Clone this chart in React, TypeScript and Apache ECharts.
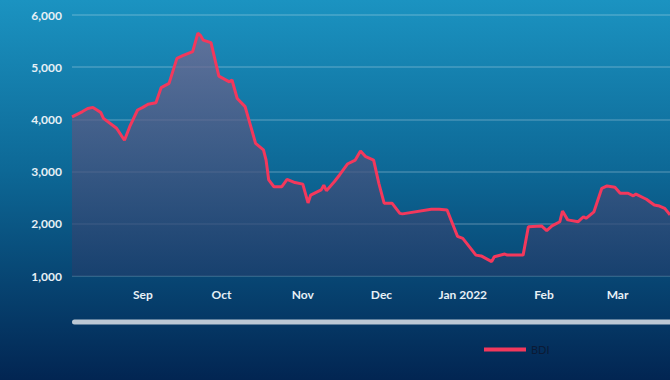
import React, { useEffect, useRef } from "react";
import * as echarts from "echarts";

const dates = [
  "2021-08-05", "2021-08-09", "2021-08-11", "2021-08-13", "2021-08-16", "2021-08-17",
  "2021-08-22", "2021-08-25", "2021-08-27", "2021-08-30", "2021-09-01", "2021-09-03",
  "2021-09-06", "2021-09-08", "2021-09-11", "2021-09-14", "2021-09-16", "2021-09-20",
  "2021-09-22", "2021-09-23", "2021-09-24", "2021-09-27", "2021-09-30", "2021-10-04",
  "2021-10-05", "2021-10-07", "2021-10-10", "2021-10-14", "2021-10-17", "2021-10-18",
  "2021-10-19", "2021-10-21", "2021-10-24", "2021-10-26", "2021-10-29", "2021-11-01",
  "2021-11-03", "2021-11-04", "2021-11-08", "2021-11-09", "2021-11-10", "2021-11-13",
  "2021-11-15", "2021-11-18", "2021-11-21", "2021-11-23", "2021-11-25", "2021-11-28",
  "2021-11-30", "2021-12-02", "2021-12-05", "2021-12-08", "2021-12-09", "2021-12-20",
  "2021-12-23", "2021-12-26", "2021-12-30", "2022-01-01", "2022-01-04", "2022-01-06",
  "2022-01-08", "2022-01-12", "2022-01-13", "2022-01-17", "2022-01-18", "2022-01-24",
  "2022-01-26", "2022-01-31", "2022-02-02", "2022-02-04", "2022-02-07", "2022-02-08",
  "2022-02-10", "2022-02-14", "2022-02-16", "2022-02-17", "2022-02-20", "2022-02-23",
  "2022-02-25", "2022-02-28", "2022-03-02", "2022-03-05", "2022-03-07", "2022-03-08",
  "2022-03-12", "2022-03-15", "2022-03-17", "2022-03-19", "2022-03-21",
];

const bdi = [
  4050, 4150, 4210, 4230, 4130, 4020,
  3830, 3600, 3860, 4180, 4230, 4290,
  4320, 4610, 4690, 5170, 5215, 5300,
  5650, 5610, 5520, 5470, 4830, 4720,
  4755, 4400, 4245, 3540, 3415, 3220,
  2840, 2710, 2710, 2850, 2790, 2760,
  2400, 2550, 2650, 2740, 2635, 2805,
  2935, 3145, 3220, 3395, 3285, 3220,
  2775, 2395, 2395, 2200, 2190, 2280,
  2280, 2265, 1760, 1720, 1530, 1400,
  1385, 1275, 1370, 1420, 1400, 1400,
  1945, 1960, 1870, 1960, 2040, 2245,
  2075, 2040, 2135, 2105, 2230, 2680,
  2725, 2700, 2585, 2585, 2535, 2570,
  2470, 2360, 2340, 2295, 2170,
];

const monthNames = ["Jan", "Feb", "Mar", "Apr", "May", "Jun", "Jul", "Aug", "Sep", "Oct", "Nov", "Dec"];
const seriesName = "BDI";

export default function App() {
  const ref = useRef<HTMLDivElement>(null);
  useEffect(() => {
    document.body.style.margin = "0";
    const chart = echarts.init(ref.current!, null, { renderer: "svg" });
    const data = dates.map((d, i) => [d, bdi[i]]);
    chart.setOption({
      animation: false,
      backgroundColor: {
        type: "linear", x: 0, y: 0, x2: 0, y2: 1,
        colorStops: [
          { offset: 0, color: "#1b93c1" },
          { offset: 0.45, color: "#0d6896" },
          { offset: 1, color: "#022552" },
        ],
      },
      grid: { left: 72, right: 0, top: 15, bottom: 104 },
      legend: {
        left: 484, top: 344, padding: 0,
        icon: "rect", itemWidth: 42, itemHeight: 4, itemGap: 6,
        textStyle: { color: "#0b1a35", fontSize: 11, fontFamily: "Lato" },
        data: [seriesName],
      },
      xAxis: {
        type: "time",
        min: "2021-08-05",
        max: "2022-03-21",
        splitNumber: 8,
        axisLine: { show: false },
        axisTick: { show: false },
        splitLine: { show: false },
        axisLabel: {
          color: "#e6f0f6",
          fontSize: 12,
          fontWeight: "bold",
          fontFamily: "Lato",
          margin: 12,
          hideOverlap: false,
          formatter: (val: number) => {
            const d = new Date(val);
            if (d.getDate() !== 1 || d.getHours() !== 0) return "";
            const m = monthNames[d.getMonth()];
            return d.getMonth() === 0 ? m + " " + d.getFullYear() : m;
          },
        },
      },
      yAxis: {
        type: "value",
        min: 1000,
        max: 6000,
        interval: 1000,
        axisLine: { show: false },
        axisTick: { show: false },
        splitLine: { lineStyle: { color: "rgba(255,255,255,0.22)", width: 1.5 } },
        axisLabel: {
          color: "#e6f0f6",
          fontSize: 12,
          fontWeight: "bold",
          fontFamily: "Lato",
          margin: 10,
          formatter: (v: number) => v.toLocaleString("en-US"),
        },
      },
      graphic: [
        {
          type: "rect",
          shape: { x: 72, y: 319.5, width: 610, height: 5, r: 2.5 },
          style: { fill: "#bcc8d4" },
        },
      ],
      series: [
        {
          name: seriesName,
          type: "line",
          data,
          symbol: "none",
          smooth: false,
          color: "#f3385c",
          lineStyle: { color: "#f3385c", width: 3 },
          areaStyle: {
            color: {
              type: "linear", x: 0, y: 0, x2: 0, y2: 1,
              colorStops: [
                { offset: 0, color: "rgba(125,104,143,1)" },
                { offset: 1, color: "rgba(30,62,108,1)" },
              ],
            },
          },
        },
      ],
    });
    return () => chart.dispose();
  }, []);
  return (
    <div
      ref={ref}
      style={{ position: "absolute", left: 0, top: 0, width: 670, height: 380 }}
    />
  );
}
